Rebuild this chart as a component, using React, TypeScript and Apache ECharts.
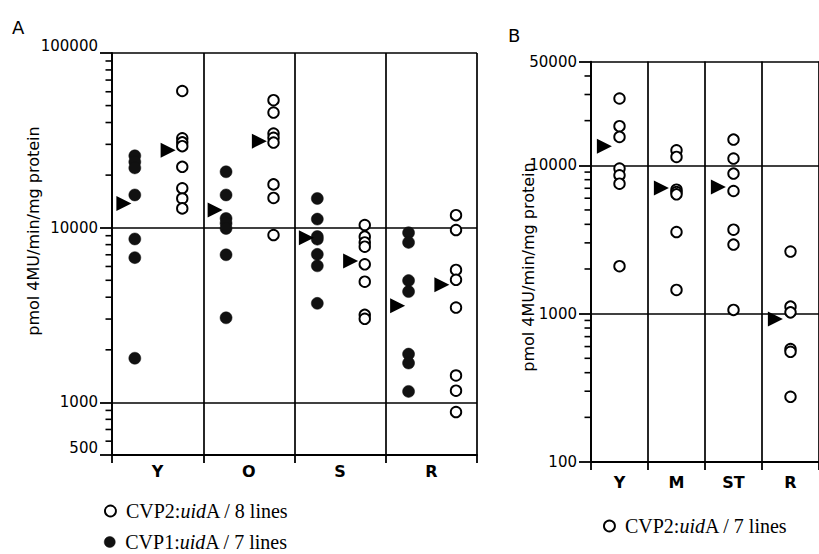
import React, { useEffect, useRef } from "react";
import * as echarts from "echarts";

// ---------- data ----------
const categoriesA = ["Y", "O", "S", "R"];
const categoriesB = ["Y", "M", "ST", "R"];

const seriesNameA2 = "CVP2:uidA / 8 lines";
const seriesNameA1 = "CVP1:uidA / 7 lines";
const seriesNameB2 = "CVP2:uidA / 7 lines";

// Panel A, CVP2 (open circles), per category
const cvp2A = [
  [60600, 32500, 30800, 29300, 22300, 16800, 14700, 12900],
  [53700, 45600, 34600, 32700, 30700, 17700, 14800, 9080],
  [10360, 8880, 8240, 7790, 6170, 4910, 3170, 3010],
  [11800, 9700, 5730, 5030, 3490, 1426, 1167, 881],
];
// Panel A, CVP1 (filled circles), per category
const cvp1A = [
  [25800, 23800, 22000, 15400, 8620, 6740, 1790],
  [20900, 15400, 11300, 10600, 9900, 7000, 3050],
  [14700, 11200, 8900, 8600, 7040, 6050, 3690],
  [9360, 8240, 4980, 4310, 1890, 1680, 1156],
];
// Panel A medians (arrowheads)
const medianCvp1A = [13770, 12620, 8770, 3570];
const medianCvp2A = [27800, 31300, 6450, 4710];

// Panel B, CVP2 (open circles), per category
const cvp2B = [
  [28200, 18350, 15530, 9500, 8560, 7520, 2090],
  [12630, 11380, 6850, 6600, 6370, 3550, 1445],
  [14900, 11100, 8790, 6710, 3680, 2920, 1060],
  [2620, 1115, 1020, 577, 553, 275],
];
const medianCvp2B = [13440, 7030, 7130, 920];

// axis ranges and minor tick values
const yRangeA = [500, 100000];
const yRangeB = [100, 50000];
const minorTicksA = [600, 700, 800, 900, 2000, 3000, 4000, 5000, 6000, 7000, 8000, 9000, 20000, 30000, 40000, 50000, 60000, 70000, 80000, 90000];
const minorTicksB = [200, 300, 400, 500, 600, 700, 800, 900, 2000, 3000, 4000, 5000, 6000, 7000, 8000, 9000, 20000, 30000, 40000];

const yAxisTitle = "pmol 4MU/min/mg protein";

// ---------- layout / styling constants ----------
const SANS = "DejaVu Sans";
const SERIF = "Liberation Serif";
const INK = "#000";
const FILL_DARK = "#111";

const offA = { filled: 0.25, open: 0.77, medFilled: 0.13, medOpen: 0.615 };
const offB = { open: 0.5, med: 0.235 };

function place(groups: number[][], off: number) {
  const out: number[][] = [];
  groups.forEach((vals, i) => vals.forEach((v) => out.push([i + off, v])));
  return out;
}
function placeFlat(vals: number[], off: number) {
  return vals.map((v, i) => [i + off, v]);
}

function legendFormatter(name: string) {
  const parts = name.split("uid");
  return `{p|${parts[0]}}{i|uid}{n|${parts[1]}}`;
}
const legendRich = {
  p: { fontFamily: SERIF, fontSize: 20, lineHeight: 22, color: INK, padding: [0, 0, 0, 5] },
  i: { fontFamily: SERIF, fontSize: 20, lineHeight: 22, color: INK, fontStyle: "italic" },
  n: { fontFamily: SERIF, fontSize: 20, lineHeight: 22, color: INK },
};

function valueXAxis(gridIndex: number) {
  return {
    gridIndex,
    type: "value",
    min: 0,
    max: 4,
    interval: 1,
    axisLine: { show: true, lineStyle: { color: INK, width: 1.8 } },
    axisTick: { show: true, length: 8, lineStyle: { color: INK, width: 1.8 } },
    axisLabel: { show: false },
    splitLine: { show: true, lineStyle: { color: INK, width: 1.7 } },
  };
}
function categoryXAxis(gridIndex: number, data: string[], margin: number) {
  return {
    gridIndex,
    type: "category",
    data,
    position: "bottom",
    axisLine: { show: false },
    axisTick: { show: false },
    splitLine: { show: false },
    axisLabel: { color: INK, fontFamily: SANS, fontWeight: "bold", fontSize: 16, margin },
  };
}
function logYAxis(gridIndex: number, range: number[], edgeBottom: boolean) {
  const label: any = {
    color: INK,
    fontFamily: SANS,
    fontSize: 15,
    margin: 14,
    formatter: (v: number) => String(Math.round(v)),
  };
  if (edgeBottom) {
    label.verticalAlignMinLabel = "bottom";
    label.verticalAlignMaxLabel = "bottom";
  }
  return {
    gridIndex,
    type: "log",
    logBase: 10,
    min: range[0],
    max: range[1],
    axisLine: { show: true, lineStyle: { color: INK, width: 1.8 } },
    axisTick: { show: true, length: 12, lineStyle: { color: INK, width: 1.8 } },
    axisLabel: label,
    splitLine: { show: true, lineStyle: { color: INK, width: 1.7 } },
  };
}

const openStyle = { color: "#fff", borderColor: INK, borderWidth: 1.9, opacity: 1 };
const filledStyle = { color: FILL_DARK, borderColor: FILL_DARK, borderWidth: 0.5, opacity: 1 };
const arrowStyle = { color: INK, opacity: 1 };

function legendFor(name: string, style: any, left: number, top: number) {
  return {
    data: [{ name, icon: "circle", itemStyle: style }],
    orient: "horizontal",
    left,
    top,
    padding: 0,
    itemWidth: 11,
    itemHeight: 11,
    selectedMode: false,
    formatter: legendFormatter,
    textStyle: { rich: legendRich },
  };
}

const staticGraphics = [
  { id: "lblA", type: "text", left: 12, top: 18, style: { text: "A", font: `18px "${SANS}"`, fill: INK } },
  { id: "lblB", type: "text", left: 508, top: 26, style: { text: "B", font: `18px "${SANS}"`, fill: INK } },
  {
    id: "nameA",
    type: "text",
    x: 33,
    y: 231,
    rotation: Math.PI / 2,
    style: { text: yAxisTitle, font: `16px "${SANS}"`, fill: INK, align: "center", verticalAlign: "middle" },
  },
  {
    id: "nameB",
    type: "text",
    x: 528,
    y: 267,
    rotation: Math.PI / 2,
    style: { text: yAxisTitle, font: `16px "${SANS}"`, fill: INK, align: "center", verticalAlign: "middle" },
  },
];

export default function App() {
  const ref = useRef<HTMLDivElement>(null);

  useEffect(() => {
    if (!ref.current) return;
    const chart = echarts.init(ref.current, undefined, { renderer: "svg" });

    const option: any = {
      animation: false,
      backgroundColor: "#fff",
      grid: [
        { left: 112, top: 53, width: 365, height: 402 },
        { left: 591, top: 61.6, width: 233, height: 400.4 },
      ],
      xAxis: [
        valueXAxis(0),
        categoryXAxis(0, categoriesA, 8),
        valueXAxis(1),
        categoryXAxis(1, categoriesB, 12),
      ],
      yAxis: [logYAxis(0, yRangeA, true), logYAxis(1, yRangeB, false)],
      legend: [
        legendFor(seriesNameA2, openStyle, 104, 501),
        legendFor(seriesNameA1, filledStyle, 104, 532),
        legendFor(seriesNameB2, openStyle, 603, 516),
      ],
      graphic: staticGraphics,
      series: [
        {
          name: seriesNameA1,
          type: "scatter",
          xAxisIndex: 0,
          yAxisIndex: 0,
          symbol: "circle",
          symbolSize: 12,
          itemStyle: filledStyle,
          data: place(cvp1A, offA.filled),
        },
        {
          name: seriesNameA2,
          type: "scatter",
          xAxisIndex: 0,
          yAxisIndex: 0,
          symbol: "circle",
          symbolSize: 10.5,
          itemStyle: openStyle,
          data: place(cvp2A, offA.open),
        },
        {
          name: "median CVP1 A",
          type: "scatter",
          xAxisIndex: 0,
          yAxisIndex: 0,
          symbol: "triangle",
          symbolRotate: -90,
          symbolSize: 15,
          itemStyle: arrowStyle,
          data: placeFlat(medianCvp1A, offA.medFilled),
        },
        {
          name: "median CVP2 A",
          type: "scatter",
          xAxisIndex: 0,
          yAxisIndex: 0,
          symbol: "triangle",
          symbolRotate: -90,
          symbolSize: 15,
          itemStyle: arrowStyle,
          data: placeFlat(medianCvp2A, offA.medOpen),
        },
        {
          name: seriesNameB2,
          type: "scatter",
          xAxisIndex: 2,
          yAxisIndex: 1,
          symbol: "circle",
          symbolSize: 10.5,
          itemStyle: openStyle,
          data: place(cvp2B, offB.open),
        },
        {
          name: "median CVP2 B",
          type: "scatter",
          xAxisIndex: 2,
          yAxisIndex: 1,
          symbol: "triangle",
          symbolRotate: -90,
          symbolSize: 15,
          itemStyle: arrowStyle,
          data: placeFlat(medianCvp2B, offB.med),
        },
      ],
    };

    chart.setOption(option);

    // minor log ticks, positioned through the axes' own scales
    const tickLines: any[] = [];
    const addTicks = (vals: number[], xAxisIndex: number, yAxisIndex: number, prefix: string) => {
      const x0 = Number(chart.convertToPixel({ xAxisIndex }, 0));
      vals.forEach((v, k) => {
        const y = Number(chart.convertToPixel({ yAxisIndex }, v));
        tickLines.push({
          id: `${prefix}${k}`,
          type: "rect",
          z: 100,
          silent: true,
          shape: { x: x0 - 6.5, y: y - 0.8, width: 6.5, height: 1.6 },
          style: { fill: INK },
        });
      });
    };
    addTicks(minorTicksA, 0, 0, "mtA");
    addTicks(minorTicksB, 2, 1, "mtB");
    chart.setOption({ graphic: [...staticGraphics, ...tickLines] });

    return () => chart.dispose();
  }, []);

  return (
    <div
      ref={ref}
      style={{ position: "absolute", left: 0, top: 0, width: 819, height: 554, background: "#fff" }}
    />
  );
}
